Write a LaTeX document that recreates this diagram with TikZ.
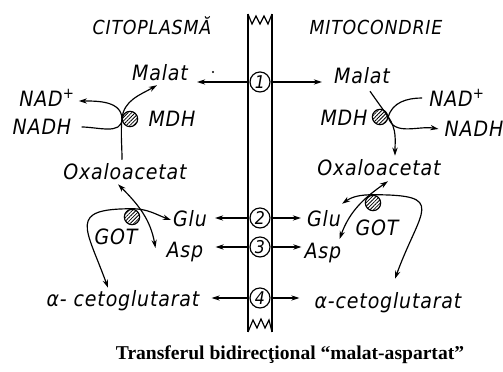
\documentclass[tikz,border=0pt]{standalone}
\usepackage{fontspec}
\usepackage{tikz}
\usetikzlibrary{arrows.meta, calc, patterns.meta}
\newfontfamily\handfont[LetterSpace=4, ItalicFont={DejaVu Sans Condensed Oblique}]{DejaVu Sans Condensed}
\newfontfamily\titlefont{Liberation Serif}

\begin{document}
\begin{tikzpicture}[
    x=0.03cm, y=0.03cm,
    lbl/.style={font=\handfont\itshape\fontsize{18}{18}\selectfont, inner sep=0pt, text depth=0pt},
    head/.style={font=\handfont\itshape\fontsize{16.5}{16.5}\selectfont, inner sep=0pt, text depth=0pt},
    num/.style={circle, draw, fill=white, line width=1pt, minimum size=0.6cm, inner sep=0pt, font=\handfont\itshape\fontsize{15}{15}\selectfont},
    enz/.style={circle, draw, line width=1pt, minimum size=0.46cm, inner sep=0pt, pattern={Lines[angle=45, distance=2.2pt, line width=0.7pt]}},
    arr/.style={-{Stealth[length=7pt,width=4.5pt]}, line width=1pt},
    dbl/.style={{Stealth[length=7pt,width=4.5pt]}-{Stealth[length=7pt,width=4.5pt]}, line width=1pt},
    wire/.style={line width=1pt}
]
\useasboundingbox (0,0) rectangle (503,372);

% Membrane
\draw[wire] (248,40) -- (248,358) (272,40) -- (272,358);
\draw[wire] (248,358) -- (252,348) -- (256,356) -- (260,348) -- (264,356) -- (268,348) -- (272,358);
\draw[wire] (248,40) -- (253,52) -- (257,44) -- (261,53) -- (265,44) -- (269,52) -- (272,40);

% Carriers
\node[num] (c1) at (260,290) {1};
\node[num] (c2) at (260,154) {2};
\node[num] (c3) at (260,125) {3};
\node[num] (c4) at (260,74)  {4};

% Headings
\node[head] (cito) at (152,346) {CITOPLASMĂ};
\node[head] (mito) at (376,345) {MITOCONDRIE};

% Cytoplasm side
\node[lbl] (malatL)  at (160,300) {Malat};
\node[circle, fill, inner sep=0.7pt] (dotm) at (213,300) {};
\node[lbl] (nadpL)   at (47,274)  {NAD\textsuperscript{+}};
\node[lbl] (nadhL)   at (42,245)  {NADH};
\node[enz] (mdhL)    at (130,253) {};
\node[lbl] (mdhLabL) at (172,253) {MDH};
\node[lbl] (oxL)     at (125,201) {Oxaloacetat};
\node[enz] (gotL)    at (132,155) {};
\node[lbl] (gotLabL) at (116,135) {GOT};
\node[lbl] (gluL)    at (190,154) {Glu};
\node[lbl] (aspL)    at (185,122) {Asp};
\node[lbl] (alphaL)  at (123,74)  {α- cetoglutarat};

% Mitochondria side
\node[lbl] (malatR)  at (362,297) {Malat};
\node[lbl] (nadpR)   at (457,274) {NAD\textsuperscript{+}};
\node[lbl] (nadhR)   at (474,243) {NADH};
\node[enz] (mdhR)    at (380,255) {};
\node[lbl] (mdhLabR) at (344,254) {MDH};
\node[lbl] (oxR)     at (379,205) {Oxaloacetat};
\node[enz] (gotR)    at (373,169) {};
\node[lbl] (gotLabR) at (377,144) {GOT};
\node[lbl] (gluR)    at (324,154) {Glu};
\node[lbl] (aspR)    at (323,121) {Asp};
\node[lbl] (alphaR)  at (388,72)  {α-cetoglutarat};

\node[font=\titlefont\bfseries\fontsize{16.7}{18}\selectfont] (title) at (290,17) {Transferul bidirecţional “malat-aspartat”};

% Transport across the membrane
\draw[arr] (c1) -- ($(c1 -| malatL.east)+(9,0)$);
\draw[arr] (c1) -- ($(c1 -| malatR.west)+(-12,0)$);
\draw[arr] (c2) -- ($(c2 -| gluL.east)+(8,0)$);
\draw[arr] (c2) -- ($(c2 -| gluR.west)+(-6,0)$);
\draw[arr] (c3) -- ($(c3 -| aspL.east)+(12,0)$);
\draw[arr] (c3) -- ($(c3 -| aspR.west)+(-3,0)$);
\draw[arr] (c4) -- ($(c4 -| alphaL.east)+(12,0)$);
\draw[arr] (c4) -- ($(c4 -| alphaR.west)+(-15,0)$);

% MDH reactions
\draw[arr] ($(nadhL.east)+(10,0)$) to[out=0,in=-90] (mdhL.west) to[out=90,in=0] ($(nadpL.east)+(4,-3)$);
\draw[arr] ($(oxL.north)+(-3,3)$) to[out=90,in=-95] (mdhL.west) to[out=85,in=-150] ($(malatL.south)+(-3,-5)$);
\draw[arr] ($(malatR.south)+(8,-8)$) to[out=-55,in=125] (mdhR.east) to[out=-55,in=90] ($(oxR.north)+(16,3)$);
\draw[arr] ($(nadpR.west)+(-7,0)$) to[out=180,in=75] (mdhR.east) to[out=-75,in=170] ($(nadhR.west)+(-6,0)$);

% GOT reactions
\draw[dbl] ($(oxL.south)+(-7,-5)$) to[out=-45,in=100] ($(aspL.west)+(-11,2)$);
\draw[dbl] ($(alphaL.north)+(-15,2)$) to[out=110,in=180,looseness=2] (gotL.north) to[out=0,in=160] ($(gluL.west)+(-2,-2)$);
\draw[dbl] ($(oxR.south)+(9,-6)$) to[out=-145,in=70] ($(aspR.north east)+(-2,4)$);
\draw[dbl] ($(gluR.north east)+(1,6)$) to[out=35,in=180] (gotR.north) to[out=0,in=70,looseness=2.2] ($(alphaR.north)+(7,13)$);
\end{tikzpicture}
\end{document}
